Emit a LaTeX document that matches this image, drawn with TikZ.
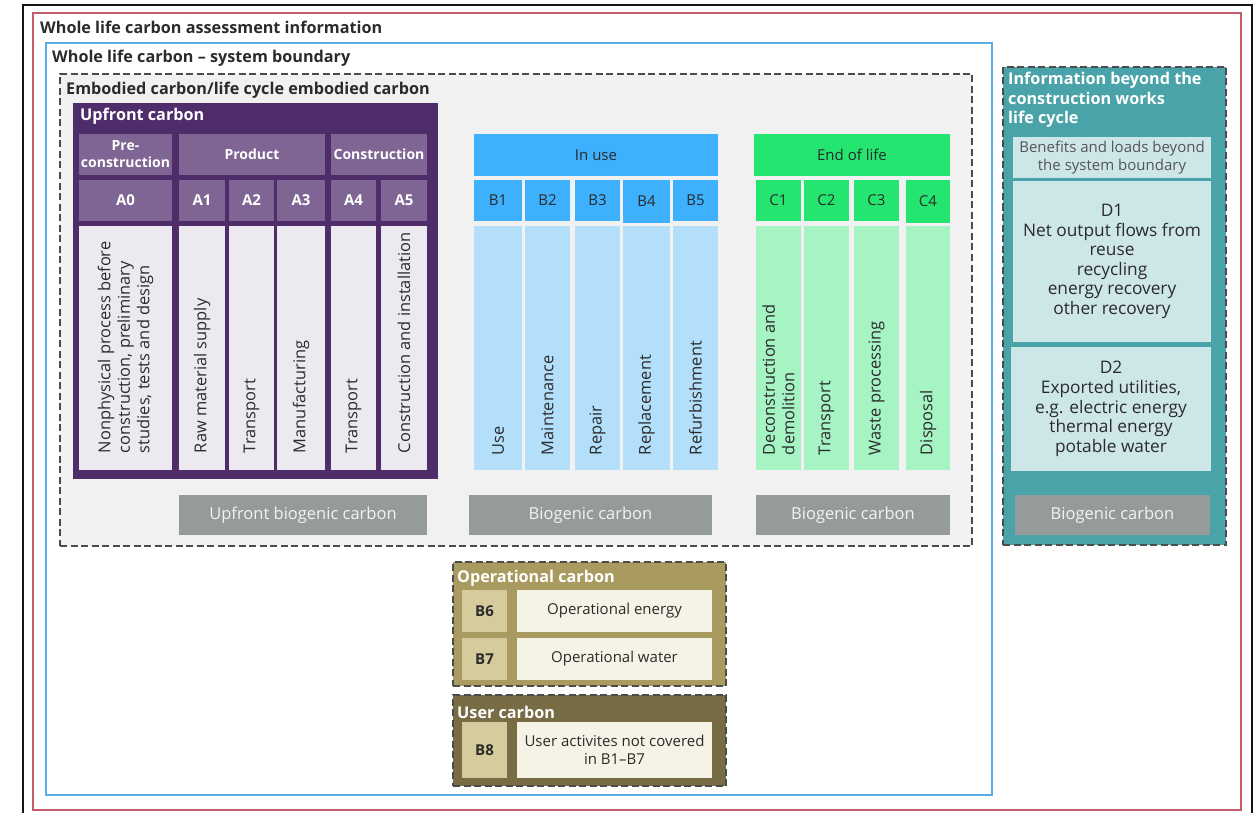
\documentclass[tikz,border=0pt]{standalone}
\usepackage{fontspec}
\setmainfont{Open Sans}
\usetikzlibrary{positioning}

\definecolor{frameblack}{HTML}{151515}
\definecolor{framered}{HTML}{C35E6D}
\definecolor{frameblue}{HTML}{5BAEE2}
\definecolor{embodiedbg}{HTML}{F0F1F0}
\definecolor{upfront}{HTML}{4F2D6B}
\definecolor{upfrontcell}{HTML}{7E6593}
\definecolor{upfrontdesc}{HTML}{EDE9F0}
\definecolor{inuse}{HTML}{3DB0FE}
\definecolor{inusedesc}{HTML}{B3DFFB}
\definecolor{endlife}{HTML}{23E56F}
\definecolor{endlifedesc}{HTML}{A6F3C4}
\definecolor{biogenic}{HTML}{959B9B}
\definecolor{beyond}{HTML}{4AA3A8}
\definecolor{beyondcell}{HTML}{CDE6E8}
\definecolor{operational}{HTML}{A99B5F}
\definecolor{usercarbon}{HTML}{786C45}
\definecolor{opcodecol}{HTML}{D6CB9C}
\definecolor{opdesccol}{HTML}{F5F2E6}
\definecolor{textdark}{HTML}{2B2B2B}

\tikzset{
  frame/.style = {rectangle, inner sep = 0pt, line width = 1.5pt},
  dashedarea/.style = {draw = black!70, dashed, dash pattern = on 7pt off 3.5pt, line width = 1.3pt},
  areatitle/.style = {anchor = west, inner sep = 0pt, align = left, text = textdark,
    font = \fontsize{16.2}{19.5}\selectfont\bfseries},
  cell/.style = {rectangle, inner sep = 0pt, align = center, text = textdark,
    font = \fontsize{15}{18}\selectfont},
  vlabel/.style = {rotate = 90, anchor = west, inner sep = 0pt, align = left, text = textdark,
    font = \fontsize{16.4}{19.5}\selectfont},
  uphead/.style = {cell, fill = upfrontcell, text = white, minimum height = 41,
    font = \fontsize{14}{17}\selectfont\bfseries},
  upcode/.style = {uphead, font = \fontsize{15}{18}\selectfont\bfseries},
  updesc/.style = {cell, fill = upfrontdesc, minimum height = 244},
  usehead/.style = {cell, fill = inuse, minimum height = 41},
  usedesc/.style = {cell, fill = inusedesc, minimum height = 244},
  eolhead/.style = {cell, fill = endlife, minimum height = 41},
  eoldesc/.style = {cell, fill = endlifedesc, minimum height = 244},
  biobox/.style = {cell, fill = biogenic, text = white!88!biogenic, minimum height = 40,
    font = \fontsize{16.5}{19}\selectfont},
  dcell/.style = {cell, fill = beyondcell, font = \fontsize{17.3}{19.6}\selectfont},
  opcode/.style = {cell, fill = opcodecol, minimum width = 45, minimum height = 42,
    font = \fontsize{15}{18}\selectfont\bfseries},
  opdesc/.style = {cell, fill = opdesccol, minimum width = 195, minimum height = 42}
}

\begin{document}
\begin{tikzpicture}[x = 1pt, y = -1pt]

  \useasboundingbox[fill = white] (0, 0) rectangle (1258, 813);

  % Frames
  \node[frame, draw = frameblack, line width = 1.8pt, minimum width = 1229, minimum height = 830] (page) at (637.5, 420) {};
  \node[frame, draw = framered, minimum width = 1208, minimum height = 797] (assess) at (637, 411.5) {};
  \node[frame, draw = frameblue, minimum width = 946, minimum height = 752] (boundary) at (519, 419) {};
  \node[frame, dashedarea, fill = embodiedbg, minimum width = 912, minimum height = 472] (embodied) at (516, 310) {};

  \node[areatitle] (assesstitle) at (40, 27) {Whole life carbon assessment information};
  \node[areatitle] (boundarytitle) at (52, 58) {Whole life carbon – system boundary};
  \node[areatitle] (embodiedtitle) at (66, 90) {Embodied carbon/life cycle embodied carbon};

  % Upfront carbon
  \node[frame, fill = upfront, minimum width = 365, minimum height = 376] (upfront) at (255.5, 291) {};
  \node[areatitle, text = white] (upfronttitle) at (80, 116) {Upfront carbon};

  \node[uphead, minimum width = 93] (prehead) at (125.5, 154.5) {Pre-\\construction};
  \node[uphead, minimum width = 146] (producthead) at (252, 154.5) {Product};
  \node[uphead, minimum width = 96] (constructionhead) at (379, 154.5) {Construction};

  \node[upcode, minimum width = 93] (a0) at (125.5, 200.5) {A0};
  \node[upcode, minimum width = 46] (a1) at (202, 200.5) {A1};
  \node[upcode, minimum width = 45] (a2) at (251.5, 200.5) {A2};
  \node[upcode, minimum width = 48] (a3) at (301, 200.5) {A3};
  \node[upcode, minimum width = 45] (a4) at (353.5, 200.5) {A4};
  \node[upcode, minimum width = 46] (a5) at (404, 200.5) {A5};

  \node[updesc, minimum width = 93] (a0desc) at (125.5, 348) {};
  \node[updesc, minimum width = 46] (a1desc) at (202, 348) {};
  \node[updesc, minimum width = 45] (a2desc) at (251.5, 348) {};
  \node[updesc, minimum width = 48] (a3desc) at (301, 348) {};
  \node[updesc, minimum width = 45] (a4desc) at (353.5, 348) {};
  \node[updesc, minimum width = 46] (a5desc) at (404, 348) {};

  \node[vlabel] (a0text) at ([yshift = 17pt]a0desc.south) {Nonphysical process before\\construction, preliminary\\studies, tests and design};
  \node[vlabel] (a1text) at ([yshift = 17pt]a1desc.south) {Raw material supply};
  \node[vlabel] (a2text) at ([yshift = 17pt]a2desc.south) {Transport};
  \node[vlabel] (a3text) at ([yshift = 17pt]a3desc.south) {Manufacturing};
  \node[vlabel] (a4text) at ([yshift = 17pt]a4desc.south) {Transport};
  \node[vlabel] (a5text) at ([yshift = 17pt]a5desc.south) {Construction and installation};

  % In use
  \node[usehead, minimum width = 244, minimum height = 42] (inusehead) at (596, 155) {In use};

  \node[usehead, minimum width = 48] (b1) at (498, 200.5) {B1};
  \node[usehead, minimum width = 45] (b2) at (547.5, 200.5) {B2};
  \node[usehead, minimum width = 45] (b3) at (597.5, 200.5) {B3};
  \node[usehead, minimum width = 47, minimum height = 43] (b4) at (646.5, 201.5) {B4};
  \node[usehead, minimum width = 45] (b5) at (695.5, 200.5) {B5};

  \node[usedesc, minimum width = 48] (b1desc) at (498, 348) {};
  \node[usedesc, minimum width = 45] (b2desc) at (547.5, 348) {};
  \node[usedesc, minimum width = 45] (b3desc) at (597.5, 348) {};
  \node[usedesc, minimum width = 47] (b4desc) at (646.5, 348) {};
  \node[usedesc, minimum width = 45] (b5desc) at (695.5, 348) {};

  \node[vlabel] (b1text) at ([yshift = 15pt]b1desc.south) {Use};
  \node[vlabel] (b2text) at ([yshift = 15pt]b2desc.south) {Maintenance};
  \node[vlabel] (b3text) at ([yshift = 15pt]b3desc.south) {Repair};
  \node[vlabel] (b4text) at ([yshift = 15pt]b4desc.south) {Replacement};
  \node[vlabel] (b5text) at ([yshift = 15pt]b5desc.south) {Refurbishment};

  % End of life
  \node[eolhead, minimum width = 196, minimum height = 42] (eolhead) at (852, 155) {End of life};

  \node[eolhead, minimum width = 45] (c1) at (778.5, 200.5) {C1};
  \node[eolhead, minimum width = 45] (c2) at (826.5, 200.5) {C2};
  \node[eolhead, minimum width = 45] (c3) at (876.5, 200.5) {C3};
  \node[eolhead, minimum width = 44, minimum height = 43] (c4) at (928, 201.5) {C4};

  \node[eoldesc, minimum width = 45] (c1desc) at (778.5, 348) {};
  \node[eoldesc, minimum width = 45] (c2desc) at (826.5, 348) {};
  \node[eoldesc, minimum width = 45] (c3desc) at (876.5, 348) {};
  \node[eoldesc, minimum width = 44] (c4desc) at (928, 348) {};

  \node[vlabel] (c1text) at ([yshift = 15pt]c1desc.south) {Deconstruction and\\demolition};
  \node[vlabel] (c2text) at ([yshift = 15pt]c2desc.south) {Transport};
  \node[vlabel] (c3text) at ([yshift = 15pt]c3desc.south) {Waste processing};
  \node[vlabel] (c4text) at ([yshift = 15pt]c4desc.south) {Disposal};

  % Biogenic carbon
  \node[biobox, minimum width = 248] (upbio) at (303, 515) {Upfront biogenic carbon};
  \node[biobox, minimum width = 243] (usebio) at (590.5, 515) {Biogenic carbon};
  \node[biobox, minimum width = 194] (eolbio) at (853, 515) {Biogenic carbon};

  % Beyond the life cycle
  \node[frame, dashedarea, fill = beyond, minimum width = 223, minimum height = 478] (beyond) at (1114.5, 306) {};
  \node[areatitle, text = white, anchor = north west] (beyondtitle) at (1008, 72) {Information beyond the\\construction works\\life cycle};
  \node[dcell, minimum width = 198, minimum height = 41, text = textdark!80, font = \fontsize{15}{18.5}\selectfont] (benefits) at (1112, 157.5) {Benefits and loads beyond\\the system boundary};
  \node[dcell, minimum width = 198, minimum height = 161] (d1) at (1112, 261.5) {D1\\Net output flows from\\reuse\\recycling\\energy recovery\\other recovery};
  \node[dcell, minimum width = 200, minimum height = 124] (d2) at (1111, 409) {D2\\Exported utilities,\\e.g. electric energy\\thermal energy\\potable water};
  \node[biobox, minimum width = 195] (beyondbio) at (1112.5, 515) {Biogenic carbon};

  % Operational carbon
  \node[frame, dashedarea, fill = operational, minimum width = 273, minimum height = 124] (operational) at (589.5, 624) {};
  \node[areatitle, text = white] (optitle) at (457, 578) {Operational carbon};
  \node[opcode] (b6) at (484.5, 611) {B6};
  \node[opdesc] (b6desc) at (614.5, 611) {Operational energy};
  \node[opcode] (b7) at (484.5, 659) {B7};
  \node[opdesc] (b7desc) at (614.5, 659) {Operational water};

  % User carbon
  \node[frame, dashedarea, fill = usercarbon, minimum width = 273, minimum height = 91] (user) at (589.5, 740.5) {};
  \node[areatitle, text = white] (usertitle) at (457, 712) {User carbon};
  \node[opcode, minimum height = 56] (b8) at (484.5, 750) {B8};
  \node[opdesc, minimum height = 56] (b8desc) at (614.5, 750) {User activites not covered\\in B1–B7};

\end{tikzpicture}
\end{document}
